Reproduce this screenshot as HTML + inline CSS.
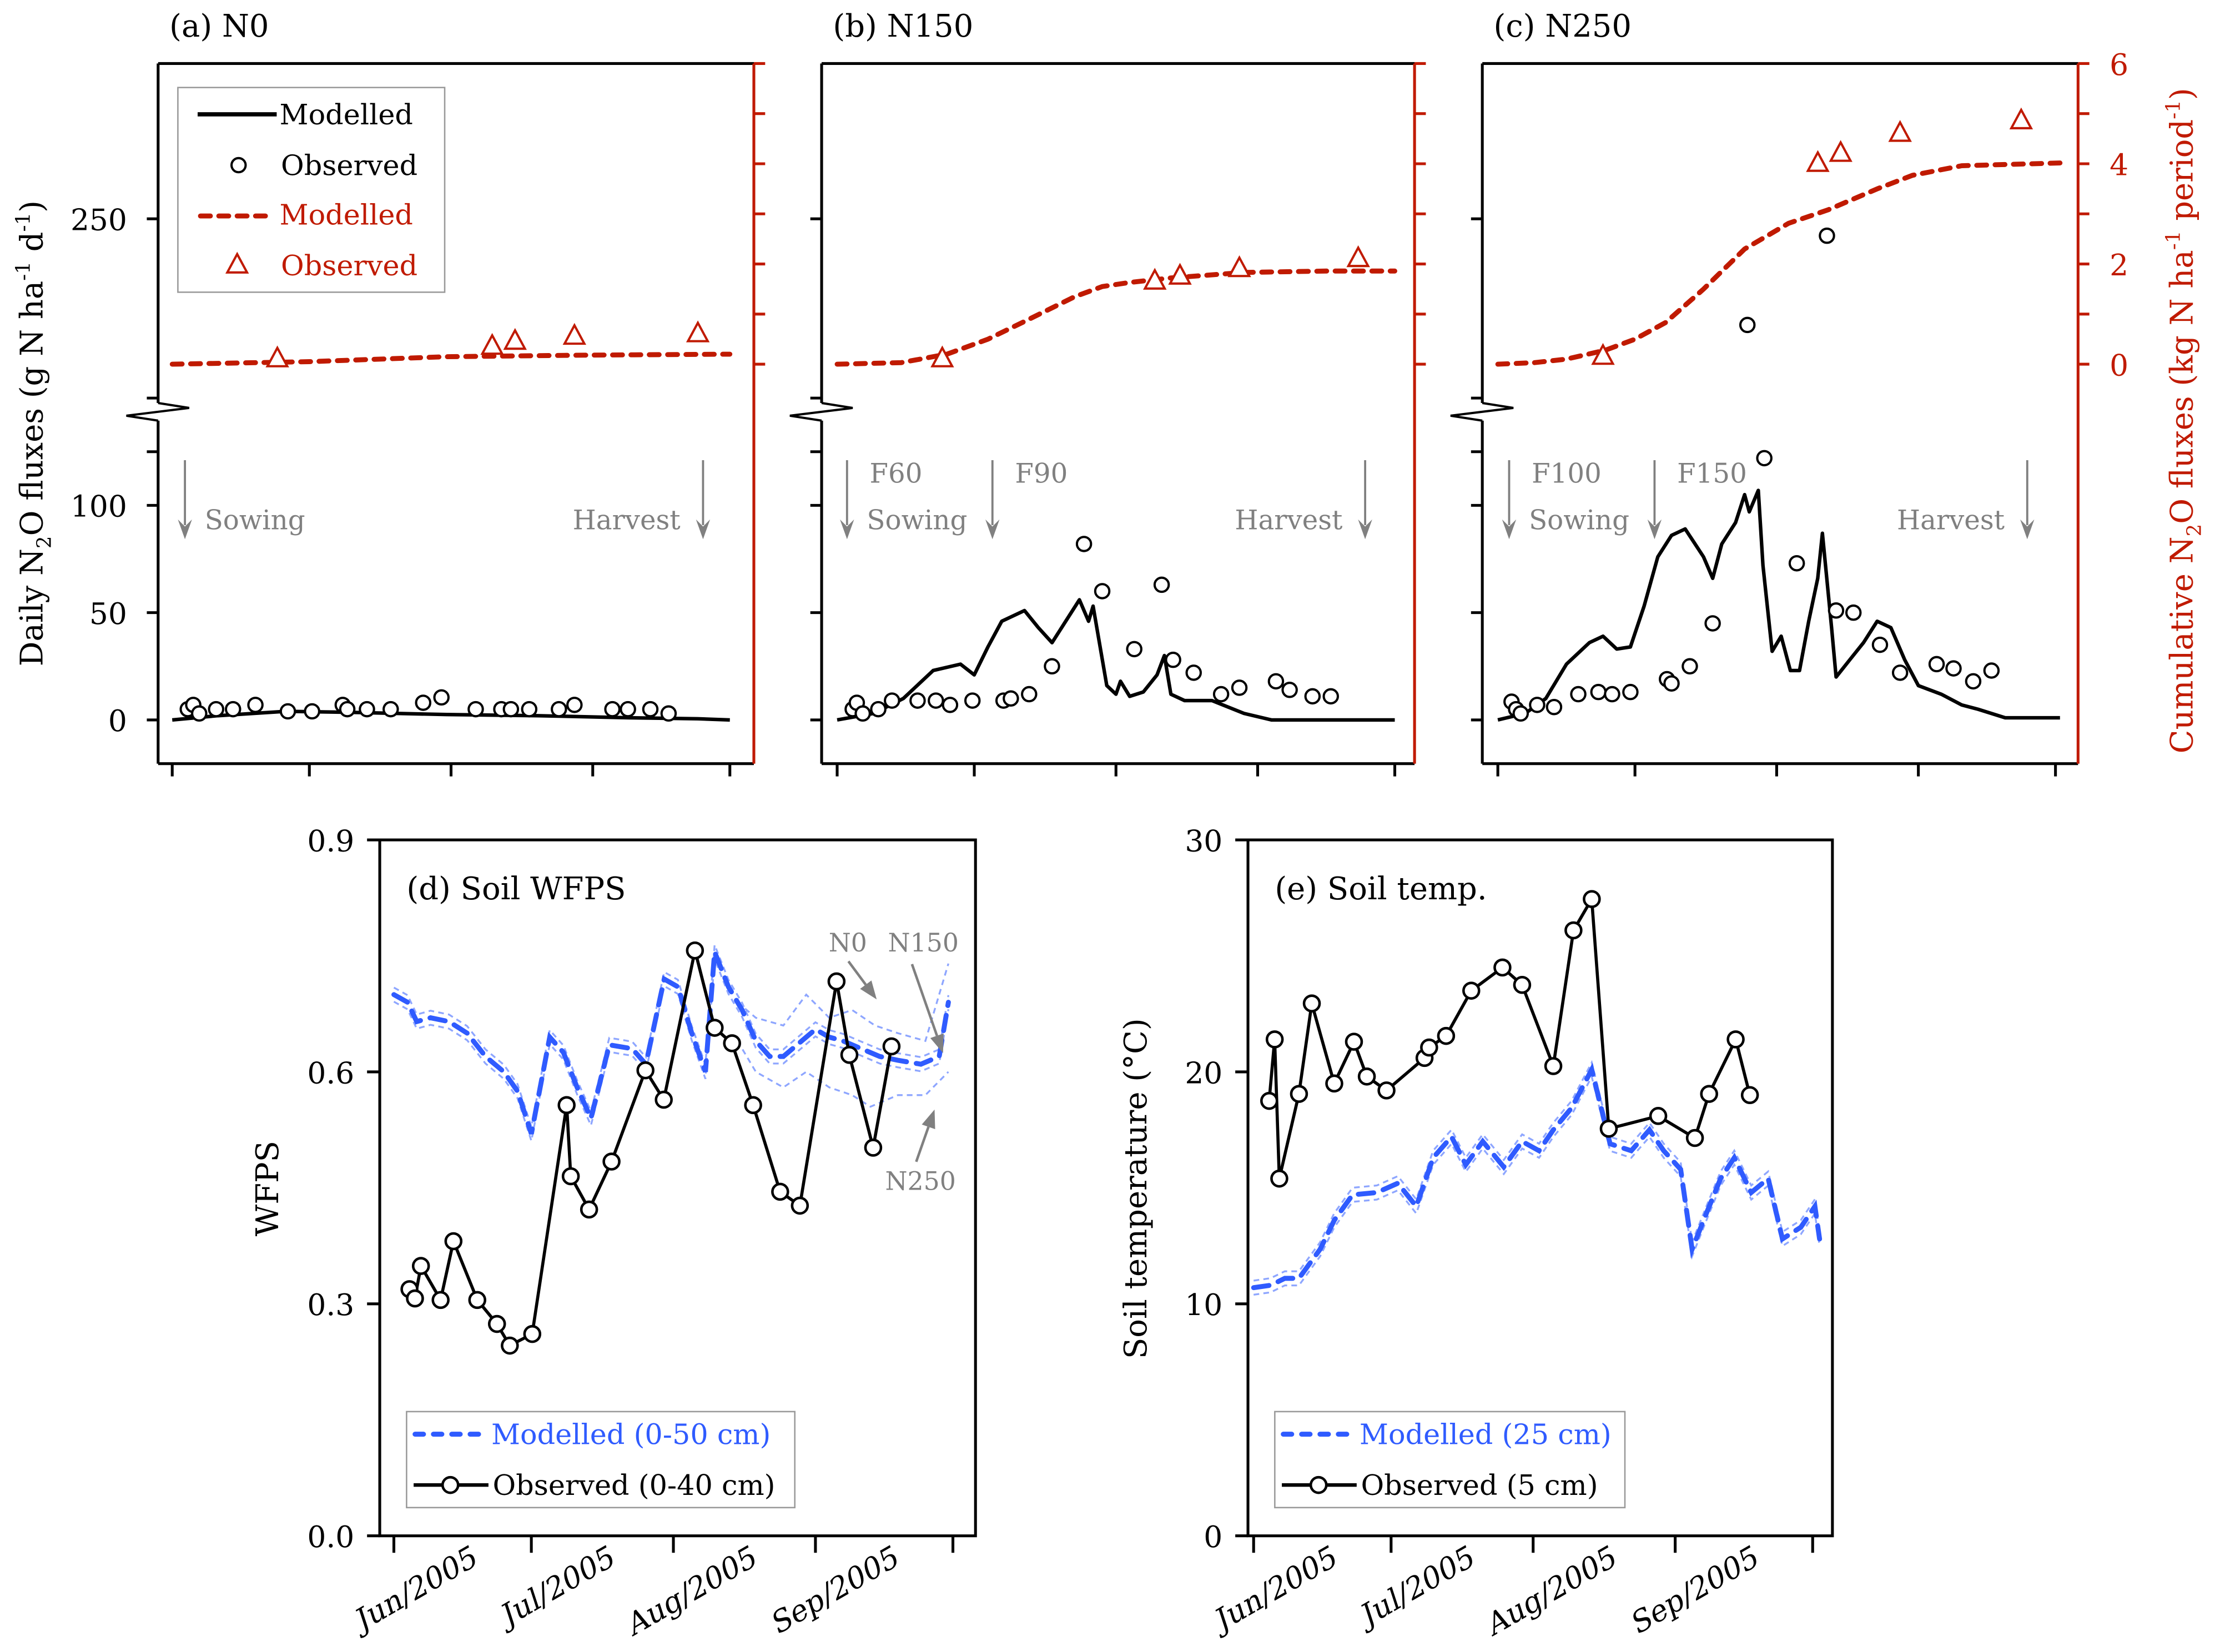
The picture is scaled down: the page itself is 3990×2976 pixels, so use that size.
<!DOCTYPE html>
<html><head><meta charset="utf-8"><style>
html,body{margin:0;padding:0;background:#fff}
svg{display:block}
text{font-family:"DejaVu Serif","Liberation Serif",serif}
</style></head><body>
<svg id="fig" xmlns="http://www.w3.org/2000/svg" width="3990" height="2976" viewBox="0 0 1569 1170.3" preserveAspectRatio="none">
<g id="root"></g>
</svg>
<script>
// ---------- Data (days since 1 Jun 2005) ----------
const months = ["Jun/2005","Jul/2005","Aug/2005","Sep/2005"];
const monthDays = [0,30,61,92,122];
// Panel a (N0)
const aModDays = [0,10,25,40,60,80,100,115,122];
const aModVals = [0,2,4,3.5,2.5,2,1,0.5,0];
const aObsDays = [3.4,4.6,5.9,9.6,13.3,18.2,25.3,30.6,37.3,38.3,42.6,47.8,54.9,58.9,66.4,72,74.1,78.1,84.6,88,96.3,99.7,104.6,108.6];
const aObsVals = [5,7,3,5,5,7,4,4,7,5,5,5,8,10.5,5,5,5,5,5,7,5,5,5,3];
const aCumDays = [0,30,60,90,122];
const aCumVals = [0,0.05,0.15,0.18,0.2];
const aCumObsDays = [23,70,75,88,115];
const aCumObsVals = [0.1,0.35,0.45,0.55,0.6];
// Panel b (N150)
const bModDays = [0,8,14.5,21,27,30,33,36,41,44,47,50,53,55,56,59,61,62,64,67,70,71.6,73,76,82,89,95,122];
const bModVals = [0,3,10,23,26,21,34,46,51,43,36,46,56,46,53,16,12,18,11,13,21,30,12,9,9,3,0,0];
const bObsDays = [3.4,4.3,5.6,9,12,17.6,21.6,24.7,29.6,36.4,38,42,47,54,58,65,71,73.5,78,84,88,96,99,104,108];
const bObsVals = [5,8,3,5,9,9,9,7,9,9,10,12,25,82,60,33,63,28,22,12,15,18,14,11,11];
const bCumDays = [0,14,24,33,42,52,58,64,73,89,107,122];
const bCumVals = [0,0.03,0.2,0.5,0.9,1.35,1.55,1.63,1.72,1.83,1.86,1.86];
const bCumObsDays = [23,69.5,75,88,114];
const bCumObsVals = [0.1,1.65,1.75,1.9,2.1];
// Panel c (N250)
const cModDays = [0,6,10.5,15,20,23,26,29,32,35,38,41,45,47,49,52,54,55,57,58,60,62,64,66,68,70,71,73,74,77,80,83,86,89,92,97,101.5,105,111,123];
const cModVals = [0,3,10,26,36,39,33,34,53,76,86,89,76,66,82,92,105,97,107,72,32,39,23,23,46,66,87,43,20,28,36,46,43,28,16,12,7,5,1,1];
const cObsDays = [3,4,5,8.6,12.3,17.6,22,25,29,37,38,42,47,54.6,58.3,65.4,72,74,77.8,83.6,88,96,99.7,104,108];
const cObsVals = [8.5,5,3,7,6,12,13,12,13,19,17,25,45,181,122,73,239,51,50,35,22,26,24,18,23];
const cCumDays = [0,8,15,23.5,30,36.7,45,54,63.6,72.2,83,90.7,101.5,124.7];
const cCumVals = [0,0.03,0.1,0.28,0.5,0.83,1.5,2.3,2.81,3.08,3.5,3.77,3.96,4.02];
const cCumObsDays = [23,70,75,88,114.5];
const cCumObsVals = [0.15,4.0,4.2,4.6,4.85];
// Panel d (WFPS)
const wModDays = [0,3,5,8,12,16,20,24,27,30,34,37,40,43,47,52,55,59,62,65,68,70,73,76,79,82,85,88,92,95,98,102,106,110,115,119,121];
const wModVals = [.70,.69,.665,.67,.665,.65,.62,.60,.575,.52,.645,.625,.58,.54,.635,.63,.61,.72,.71,.65,.60,.755,.71,.68,.64,.62,.62,.635,.655,.645,.64,.63,.62,.615,.61,.62,.69];
const wN0Days = [75,79,85,90,95,100,105,110,116,121];
const wN0Vals = [.69,.67,.66,.70,.67,.68,.66,.65,.64,.74];
const wN250Days = [75,79,85,90,95,100,104,110,116,121];
const wN250Vals = [.64,.60,.58,.60,.58,.57,.555,.57,.57,.60];
const wObsDays = [3.4,4.6,5.9,10.2,13,18.2,22.5,25.3,30.2,37.7,38.6,42.6,47.5,54.9,58.9,65.7,70,73.8,78.4,84.3,88.6,96.6,99.4,104.6,108.6];
const wObsVals = [.319,.307,.349,.305,.381,.305,.274,.246,.261,.557,.465,.422,.484,.602,.564,.757,.657,.637,.557,.445,.427,.717,.622,.502,.633];
// Panel e (temperature)
const tModDays = [0,3.7,6.8,9.9,14.5,17.6,21.6,26.9,31.5,35.5,39.2,43.2,46.3,50,54.6,58.6,62.3,65.4,69.4,73.8,77.8,82.4,86.4,89.5,93.2,95.7,98.8,101.9,104.9,108.6,112.3,115.4,119.4,122.5,123.5];
const tModVals = [10.7,10.8,11.1,11.1,12.35,13.6,14.7,14.8,15.2,14.2,16.3,17.2,16,17,15.9,17,16.6,17.5,18.45,20.1,16.9,16.6,17.5,16.6,15.8,12.35,13.9,15.4,16.3,14.8,15.4,12.8,13.3,14.2,12.8];
const tObsDays = [3.4,4.6,5.6,9.9,12.7,17.6,21.9,24.7,29,37.3,38.3,42,47.5,54.3,58.6,65.4,69.8,73.8,77.5,88.3,96.3,99.4,105.2,108.3];
const tObsVals = [18.75,21.4,15.4,19.05,22.95,19.5,21.3,19.8,19.2,20.6,21.05,21.55,23.5,24.5,23.75,20.25,26.1,27.45,17.55,18.1,17.15,19.05,21.4,19];

// ---------- helpers ----------
const NS="http://www.w3.org/2000/svg";
const root=document.getElementById('root');
function el(tag,attrs,parent,txt){const e=document.createElementNS(NS,tag);for(const k in attrs)e.setAttribute(k,attrs[k]);if(txt!==undefined)e.textContent=txt;(parent||root).appendChild(e);return e;}
const RED="#c01a00", BLUE="#2f5bff", LBLUE="#8ea6ff", GREY="#808080";
function pts(days,vals,fx,fy){return days.map((d,i)=>fx(d).toFixed(1)+","+fy(vals[i]).toFixed(1)).join(" ");}
function arrowDown(x,y1,y2,parent){
  el('line',{x1:x,y1:y1,x2:x,y2:y2-10,stroke:GREY,'stroke-width':1.5},parent);
  el('path',{d:`M${x-5},${y2-14} L${x},${y2} L${x+5},${y2-14} L${x},${y2-9}Z`,fill:GREY},parent);
}
function arrowTo(x1,y1,x2,y2,parent){
  const a=Math.atan2(y2-y1,x2-x1),L=13,W=5;
  const bx=x2-L*Math.cos(a),by=y2-L*Math.sin(a);
  el('line',{x1:x1,y1:y1,x2:bx,y2:by,stroke:GREY,'stroke-width':1.8},parent);
  el('path',{d:`M${x2},${y2} L${bx+W*Math.sin(a)},${by-W*Math.cos(a)} L${bx-W*Math.sin(a)},${by+W*Math.cos(a)}Z`,fill:GREY},parent);
}

// ---------- top panels ----------
const panels=[
 {id:'a',title:'(a) N0',x0:112,x1:534,t0:122,md:aModDays,mv:aModVals,od:aObsDays,ov:aObsVals,cd:aCumDays,cv:aCumVals,cod:aCumObsDays,cov:aCumObsVals,
  ann:[{x:131,fert:null,sow:true},{x:498,harvest:true}]},
 {id:'b',title:'(b) N150',x0:582,x1:1002,t0:593,md:bModDays,mv:bModVals,od:bObsDays,ov:bObsVals,cd:bCumDays,cv:bCumVals,cod:bCumObsDays,cov:bCumObsVals,
  ann:[{x:600,fert:'F60',sow:true},{x:703,fert:'F90'},{x:967,harvest:true}]},
 {id:'c',title:'(c) N250',x0:1050,x1:1472,t0:1061,md:cModDays,mv:cModVals,od:cObsDays,ov:cObsVals,cd:cCumDays,cv:cCumVals,cod:cCumObsDays,cov:cCumObsVals,
  ann:[{x:1069,fert:'F100',sow:true},{x:1172,fert:'F150'},{x:1436,harvest:true}]}
];
const fy=v=> v<=150 ? 510-1.52*v : 264-1.09*(v-150);
const cy=v=>258-35.5*v;
panels.forEach(p=>{
  const g=el('g',{});
  
  
  const fx=d=>p.t0+d*(395/122);
  const t=el('text',{x:p.x0+8,y:26,'font-size':22},g,p.title);
  
  
  el('line',{x1:p.x0,y1:45,x2:p.x1,y2:45,stroke:'#000','stroke-width':2},g);
  el('line',{x1:p.x0,y1:541,x2:p.x1,y2:541,stroke:'#000','stroke-width':2},g);
  el('polyline',{points:`${p.x0},45 ${p.x0},285.5`,stroke:'#000','stroke-width':2,fill:'none'},g);
  el('polyline',{points:`${p.x0},298 ${p.x0},541`,stroke:'#000','stroke-width':2,fill:'none'},g);
  el('polyline',{points:`${p.x0},285.5 ${p.x0+22},289 ${p.x0-22.5},294.5 ${p.x0},298`,stroke:'#000','stroke-width':1.6,fill:'none'},g);
  el('line',{x1:p.x1,y1:45,x2:p.x1,y2:541,stroke:RED,'stroke-width':2},g);
  [0,50,100,125,150,250].forEach(v=>{
    el('line',{x1:p.x0-8,y1:fy(v),x2:p.x0,y2:fy(v),stroke:'#000','stroke-width':2},g);
    if(p.id==='a' && [0,50,100,250].includes(v)) el('text',{x:p.x0-22,y:fy(v)+8,'font-size':21,'text-anchor':'end'},g,String(v));
  });
  [0,1,2,3,4,5,6].forEach(v=>{
    el('line',{x1:p.x1,y1:cy(v),x2:p.x1+8,y2:cy(v),stroke:RED,'stroke-width':2},g);
    if(p.id==='c' && v%2===0) el('text',{x:p.x1+29,y:cy(v)+8,'font-size':21,'text-anchor':'middle',fill:RED},g,String(v));
  });
  monthDays.forEach(d=>el('line',{x1:fx(d),y1:541,x2:fx(d),y2:550,stroke:'#000','stroke-width':2},g));
  p.ann.forEach(a=>{
    arrowDown(a.x,326,382,g);
    if(a.fert) el('text',{x:a.x+16,y:342,'font-size':19,fill:GREY},g,a.fert);
    if(a.sow) el('text',{x:a.x+14,y:375,'font-size':19,fill:GREY},g,'Sowing');
    if(a.harvest) el('text',{x:a.x-16,y:375,'font-size':19,fill:GREY,'text-anchor':'end'},g,'Harvest');
  });
  const cl=el('polyline',{points:pts(p.cd,p.cv,fx,cy),fill:'none',stroke:RED,'stroke-width':3.5,'stroke-dasharray':'7,6','stroke-linecap':'round'},g);
  
  
  p.cod.forEach((d,i)=>{
    const x=fx(d),y=cy(p.cov[i]);
    const tr=el('path',{d:`M${x},${y-8} L${x+7},${y+5} L${x-7},${y+5}Z`,fill:'#fff',stroke:RED,'stroke-width':1.6},g);
    
    
  });
  const dl=el('polyline',{points:pts(p.md,p.mv,fx,fy),fill:'none',stroke:'#000','stroke-width':2.5,'stroke-linejoin':'round'},g);
  
  
  p.od.forEach((d,i)=>{
    const c=el('circle',{cx:fx(d),cy:fy(p.ov[i]),r:5,fill:'#fff',stroke:'#000','stroke-width':1.6},g);
    
    
  });
});
{
  const g=el('g',{});
  
  
  el('rect',{x:126,y:62,width:189,height:145,fill:'#fff',stroke:'#999','stroke-width':1},g);
  el('line',{x1:140,y1:81,x2:196,y2:81,stroke:'#000','stroke-width':3},g);
  el('text',{x:198,y:88,'font-size':20},g,'Modelled');
  el('circle',{cx:169,cy:117,r:5,fill:'#fff',stroke:'#000','stroke-width':1.6},g);
  el('text',{x:199,y:124,'font-size':20},g,'Observed');
  el('line',{x1:142,y1:153,x2:192,y2:153,stroke:RED,'stroke-width':3.5,'stroke-dasharray':'7,6','stroke-linecap':'round'},g);
  el('text',{x:198,y:159,'font-size':20,fill:RED},g,'Modelled');
  el('path',{d:'M168,180 L175,193 L161,193Z',fill:'#fff',stroke:RED,'stroke-width':1.6},g);
  el('text',{x:199,y:195,'font-size':20,fill:RED},g,'Observed');
}
{
  const t=el('text',{transform:'translate(30,307) rotate(-90)','font-size':22,'text-anchor':'middle'});
  
  
  t.innerHTML='Daily N<tspan font-size="14" dy="6">2</tspan><tspan dy="-6">O fluxes (g N ha</tspan><tspan font-size="14" dy="-9">-1</tspan><tspan dy="9"> d</tspan><tspan font-size="14" dy="-9">-1</tspan><tspan dy="9">)</tspan>';
  const t2=el('text',{transform:'translate(1553,298) rotate(-90)','font-size':22,'text-anchor':'middle',fill:RED});
  
  
  t2.innerHTML='Cumulative N<tspan font-size="14" dy="6">2</tspan><tspan dy="-6">O fluxes (kg N ha</tspan><tspan font-size="14" dy="-9">-1</tspan><tspan dy="9"> period</tspan><tspan font-size="14" dy="-9">-1</tspan><tspan dy="9">)</tspan>';
}

// ---------- bottom panels ----------
function bottomPanel(o){
  const g=el('g',{});
  
  
  const fx=d=>o.t0+d*(396/122);
  const fyv=v=>1088-(v/o.ymax)*493;
  el('rect',{x:o.x0,y:595,width:o.x1-o.x0,height:493,fill:'none',stroke:'#000','stroke-width':2},g);
  o.ticks.forEach((v,i)=>{
    el('line',{x1:o.x0-9,y1:fyv(v),x2:o.x0,y2:fyv(v),stroke:'#000','stroke-width':2},g);
    el('text',{x:o.x0-18,y:fyv(v)+8,'font-size':21,'text-anchor':'end'},g,o.tickLabels[i]);
  });
  monthDays.forEach(d=>el('line',{x1:fx(d),y1:1088,x2:fx(d),y2:1100,stroke:'#000','stroke-width':2},g));
  months.forEach((m,i)=>{
    const x=fx(monthDays[i])+60,y=1108;
    const t=el('text',{x:0,y:0,'font-size':21,'text-anchor':'end',transform:`translate(${x},${y}) rotate(-30) skewX(-12)`},g,m);
    
    
  });
  const yt=el('text',{transform:`translate(${o.x0-72},842) rotate(-90)`,'font-size':22,'text-anchor':'middle'},g,o.ytitle);
  
  
  el('text',{x:o.x0+19,y:637,'font-size':22},g,o.title);
  el('polyline',{points:pts(o.md,o.mv,fx,fyv),fill:'none',stroke:LBLUE,'stroke-width':1.3,'stroke-dasharray':'4,3',transform:'translate(0,-5)'},g);
  el('polyline',{points:pts(o.md,o.mv,fx,fyv),fill:'none',stroke:LBLUE,'stroke-width':1.3,'stroke-dasharray':'4,3',transform:'translate(0,5)'},g);
  if(o.n0d){
    el('polyline',{points:pts(o.n0d,o.n0v,fx,fyv),fill:'none',stroke:LBLUE,'stroke-width':1.3,'stroke-dasharray':'4,3'},g);
    el('polyline',{points:pts(o.n250d,o.n250v,fx,fyv),fill:'none',stroke:LBLUE,'stroke-width':1.3,'stroke-dasharray':'4,3'},g);
  }
  const ml=el('polyline',{points:pts(o.md,o.mv,fx,fyv),fill:'none',stroke:BLUE,'stroke-width':3.5,'stroke-dasharray':'11,7','stroke-linecap':'round'},g);
  
  
  const ol=el('polyline',{points:pts(o.od,o.ov,fx,fyv),fill:'none',stroke:'#000','stroke-width':2.2},g);
  
  
  o.od.forEach((d,i)=>{
    const c=el('circle',{cx:fx(d),cy:fyv(o.ov[i]),r:5.5,fill:'#fff',stroke:'#000','stroke-width':1.8},g);
    
    
  });
  const lg=el('g',{},g);
  
  
  el('rect',{x:o.x0+19,y:1000,width:o.legW,height:68,fill:'#fff',stroke:'#999','stroke-width':1},lg);
  el('line',{x1:o.x0+25,y1:1016,x2:o.x0+75,y2:1016,stroke:BLUE,'stroke-width':3.5,'stroke-dasharray':'6,7','stroke-linecap':'round'},lg);
  el('text',{x:o.x0+79,y:1023,'font-size':20,fill:BLUE},lg,o.leg1);
  el('line',{x1:o.x0+24,y1:1052,x2:o.x0+77,y2:1052,stroke:'#000','stroke-width':2.5},lg);
  el('circle',{cx:o.x0+50,cy:1052,r:5.5,fill:'#fff',stroke:'#000','stroke-width':1.8},lg);
  el('text',{x:o.x0+80,y:1059,'font-size':20},lg,o.leg2);
  return g;
}
const gd=bottomPanel({id:'d',x0:269,x1:691,t0:279,ymax:0.9,ticks:[0,0.3,0.6,0.9],tickLabels:['0.0','0.3','0.6','0.9'],
  ytitle:'WFPS',title:'(d) Soil WFPS',md:wModDays,mv:wModVals,od:wObsDays,ov:wObsVals,
  n0d:wN0Days,n0v:wN0Vals,n250d:wN250Days,n250v:wN250Vals,legW:275,leg1:'Modelled (0-50 cm)',leg2:'Observed (0-40 cm)'});
el('text',{x:587,y:674,'font-size':18,fill:GREY},gd,'N0');
el('text',{x:629,y:674,'font-size':18,fill:GREY},gd,'N150');
el('text',{x:627,y:843,'font-size':18,fill:GREY},gd,'N250');
arrowTo(601,681,621,708,gd);
arrowTo(646,683,668,746,gd);
arrowTo(649,823,662,786,gd);
bottomPanel({id:'e',x0:884,x1:1298,t0:888,ymax:30,ticks:[0,10,20,30],tickLabels:['0','10','20','30'],
  ytitle:'Soil temperature (°C)',title:'(e) Soil temp.',md:tModDays,mv:tModVals,od:tObsDays,ov:tObsVals,
  legW:248,leg1:'Modelled (25 cm)',leg2:'Observed (5 cm)'});
</script>
</body></html>
